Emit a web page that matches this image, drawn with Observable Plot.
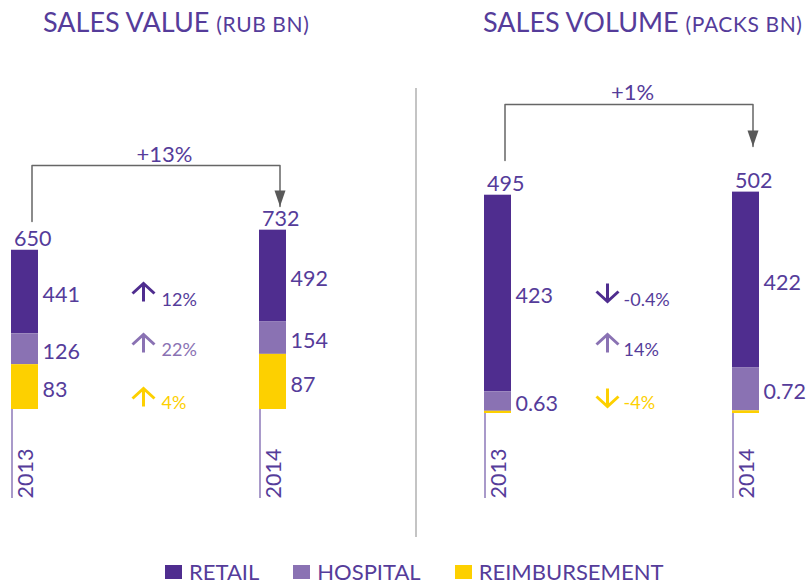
<!DOCTYPE html>
<html>
<head>
<meta charset="utf-8">
<script src="https://cdn.jsdelivr.net/npm/d3@7"></script>
<script src="https://cdn.jsdelivr.net/npm/@observablehq/plot@0.6"></script>
<style>
  html, body { margin: 0; padding: 0; background: #fff; }
  #root { position: relative; width: 810px; height: 587px; overflow: hidden; font-family: Lato, "Open Sans", sans-serif; color: #553c9a; }
  .title { position: absolute; top: 8px; font-size: 27px; line-height: 1; white-space: nowrap; }
  .title span { font-size: 21px; letter-spacing: 0.6px; }
  .panel { position: absolute; top: 60px; }
  .divider { position: absolute; left: 415px; top: 88px; width: 1.5px; height: 449px; background: #c4c4c4; }
  .legend { position: absolute; left: 165px; top: 561px; display: flex; align-items: flex-start; }
  .legend .item { display: flex; align-items: flex-start; margin-right: 34px; }
  .legend .sw { width: 17px; height: 14px; margin-right: 7px; margin-top: 4px; }
  .legend .lb { font-size: 22px; line-height: 1; }
</style>
</head>
<body>
<div id="root">
  <div class="title" style="left:43px">SALES VALUE <span>(RUB BN)</span></div>
  <div class="title" style="left:483px">SALES VOLUME <span>(PACKS BN)</span></div>
  <div class="divider"></div>
  <div class="panel" id="p1" style="left:0px"></div>
  <div class="panel" id="p2" style="left:405px"></div>
  <div class="legend" id="legend"></div>
</div>
<script>
// ---------- data ----------
const years = ["2013", "2014"];
const series = ["RETAIL", "HOSPITAL", "REIMBURSEMENT"];
const seriesColors = ["#4f2d8f", "#8a72b3", "#fdd000"];

// Sales value (RUB bn): bar segment sizes as drawn, and printed labels
const valueTotals = [650, 732];
const valueRetailBar = [341, 375];
const valueHospitalBar = [126, 132];
const valueReimbBar = [183, 225];
const valueRetailLabels = ["441", "492"];
const valueHospitalLabels = ["126", "154"];
const valueReimbLabels = ["83", "87"];
const valueChanges = ["12%", "22%", "4%"];
const valueChangeDirs = ["up", "up", "up"];
const valueGrowth = "+13%";

// Sales volume (packs bn)
const volumeTotals = [495, 502];
const volumeRetailBar = [446, 398];
const volumeHospitalBar = [44, 98];
const volumeReimbBar = [5, 6];
const volumeRetailLabels = ["423", "422"];
const volumeHospitalLabels = ["0.63", "0.72"];
const volumeReimbLabels = [null, null];
const volumeChanges = ["-0.4%", "14%", "-4%"];
const volumeChangeDirs = ["down", "up", "down"];
const volumeGrowth = "+1%";

// ---------- styling / layout ----------
const TEXT = "#553c9a";
const W = 405, H = 438, BW = 27, STEP = 248;

const chevron = {
  draw(ctx, l) {
    ctx.moveTo(0, 0);
    ctx.lineTo(0, -l + 1);
    ctx.moveTo(-11, -l + 10);
    ctx.lineTo(0, -l);
    ctx.lineTo(11, -l + 10);
  }
};
const tipTriangle = {
  draw(ctx) {
    ctx.moveTo(-5.5, -16);
    ctx.lineTo(5.5, -16);
    ctx.lineTo(0, 0);
    ctx.closePath();
  }
};

function panel(cfg) {
  const {totals, bars, labels, changes, dirs, growth, L} = cfg;
  const rows = [];
  years.forEach((yr, i) => series.forEach((s, j) =>
    rows.push({year: yr, series: s, v: bars[j][i], label: labels[j][i]})));
  const totalRows = years.map((yr, i) => ({year: yr, total: totals[i]}));
  const yMax = L.base / L.k, yMin = -(H - L.base) / L.k;
  const toY = px => yMax - px / L.k;
  const bracket = [
    {year: "2013", y: toY(L.bStart)},
    {year: "2013", y: toY(L.bTop)},
    {year: "2014", y: toY(L.bTop)},
    {year: "2014", y: toY(L.bTip)}
  ];
  const stackOrder = ["REIMBURSEMENT", "HOSPITAL", "RETAIL"];
  const marks = [
    Plot.ruleX(years, {x: d => d, y1: 0, y2: yMin, dx: -13, stroke: "#8d78b8", strokeWidth: 1.5}),
    Plot.barY(rows, {x: "year", y: "v", fill: "series", order: stackOrder}),
    Plot.text(rows, Plot.stackY({x: "year", y: "v", z: "series", order: stackOrder, text: "label",
      textAnchor: "start", dx: 17.5, dy: 3, fill: TEXT, fontSize: 21.5})),
    Plot.text(totalRows, {x: "year", y: "total", text: d => String(d.total), textAnchor: "start",
      dx: -11, dy: -11, fill: TEXT, fontSize: 21.5}),
    Plot.text(years, {x: d => d, y: yMin, text: d => d, rotate: -90, textAnchor: "start",
      dx: 1.5, fill: TEXT, fontSize: 21.5}),
    Plot.line(bracket, {x: "year", y: "y", dx: 7, stroke: "#666", strokeWidth: 1.5}),
    Plot.dot([bracket[3]], {x: "year", y: "y", dx: 7, symbol: tipTriangle, fill: "#595959", stroke: null}),
    Plot.text([growth], {frameAnchor: "top-left", lineAnchor: "middle", dx: L.gx, dy: L.gy, text: d => d,
      textAnchor: "middle", fill: TEXT, fontSize: 22})
  ];
  changes.forEach((c, i) => {
    marks.push(Plot.vector([c], {frameAnchor: "top-left", dx: L.ax, dy: L.ay[i], length: 18,
      rotate: dirs[i] === "up" ? 0 : 180, anchor: "middle", shape: chevron,
      stroke: seriesColors[i], strokeWidth: 3, strokeLinecap: "butt", strokeLinejoin: "miter"}));
    marks.push(Plot.text([c], {frameAnchor: "top-left", lineAnchor: "middle", dx: L.tx, dy: L.ty[i],
      text: d => d, textAnchor: "start", fill: L.tc[i], fontSize: 18}));
  });
  return Plot.plot({
    width: W, height: H,
    marginTop: 0, marginRight: 0, marginBottom: 0, marginLeft: 0,
    style: {background: "transparent", overflow: "visible", fontFamily: "Lato, 'Open Sans', sans-serif"},
    x: {type: "band", domain: years, range: [L.x0, L.x0 + STEP + BW], paddingInner: 1 - BW / STEP, paddingOuter: 0, axis: null},
    y: {domain: [yMin, yMax], axis: null},
    color: {domain: series, range: seriesColors},
    marks
  });
}

document.getElementById("p1").append(panel({
  totals: valueTotals,
  bars: [valueRetailBar, valueHospitalBar, valueReimbBar],
  labels: [valueRetailLabels, valueHospitalLabels, valueReimbLabels],
  changes: valueChanges, dirs: valueChangeDirs, growth: valueGrowth,
  L: {x0: 11, base: 349, k: 0.245, bStart: 161, bTop: 105, bTip: 146, gx: 164, gy: 94,
      ax: 143, ay: [232, 283, 337], tx: 161, ty: [239.5, 290, 343],
      tc: [TEXT, "#8a72b3", "#fdd000"]}
}));
document.getElementById("p2").append(panel({
  totals: volumeTotals,
  bars: [volumeRetailBar, volumeHospitalBar, volumeReimbBar],
  labels: [volumeRetailLabels, volumeHospitalLabels, volumeReimbLabels],
  changes: volumeChanges, dirs: volumeChangeDirs, growth: volumeGrowth,
  L: {x0: 79, base: 353, k: 0.441, bStart: 100, bTop: 44, bTip: 86, gx: 227, gy: 32,
      ax: 202, ay: [232, 283, 337], tx: 218, ty: [239.5, 290, 343],
      tc: [TEXT, TEXT, "#fdd000"]}
}));

// legend
const legend = document.getElementById("legend");
series.forEach((s, i) => {
  const item = document.createElement("div");
  item.className = "item";
  const sw = document.createElement("div");
  sw.className = "sw"; sw.style.background = seriesColors[i];
  const lb = document.createElement("div");
  lb.className = "lb"; lb.textContent = s;
  item.append(sw, lb);
  legend.append(item);
});
</script>
</body>
</html>
